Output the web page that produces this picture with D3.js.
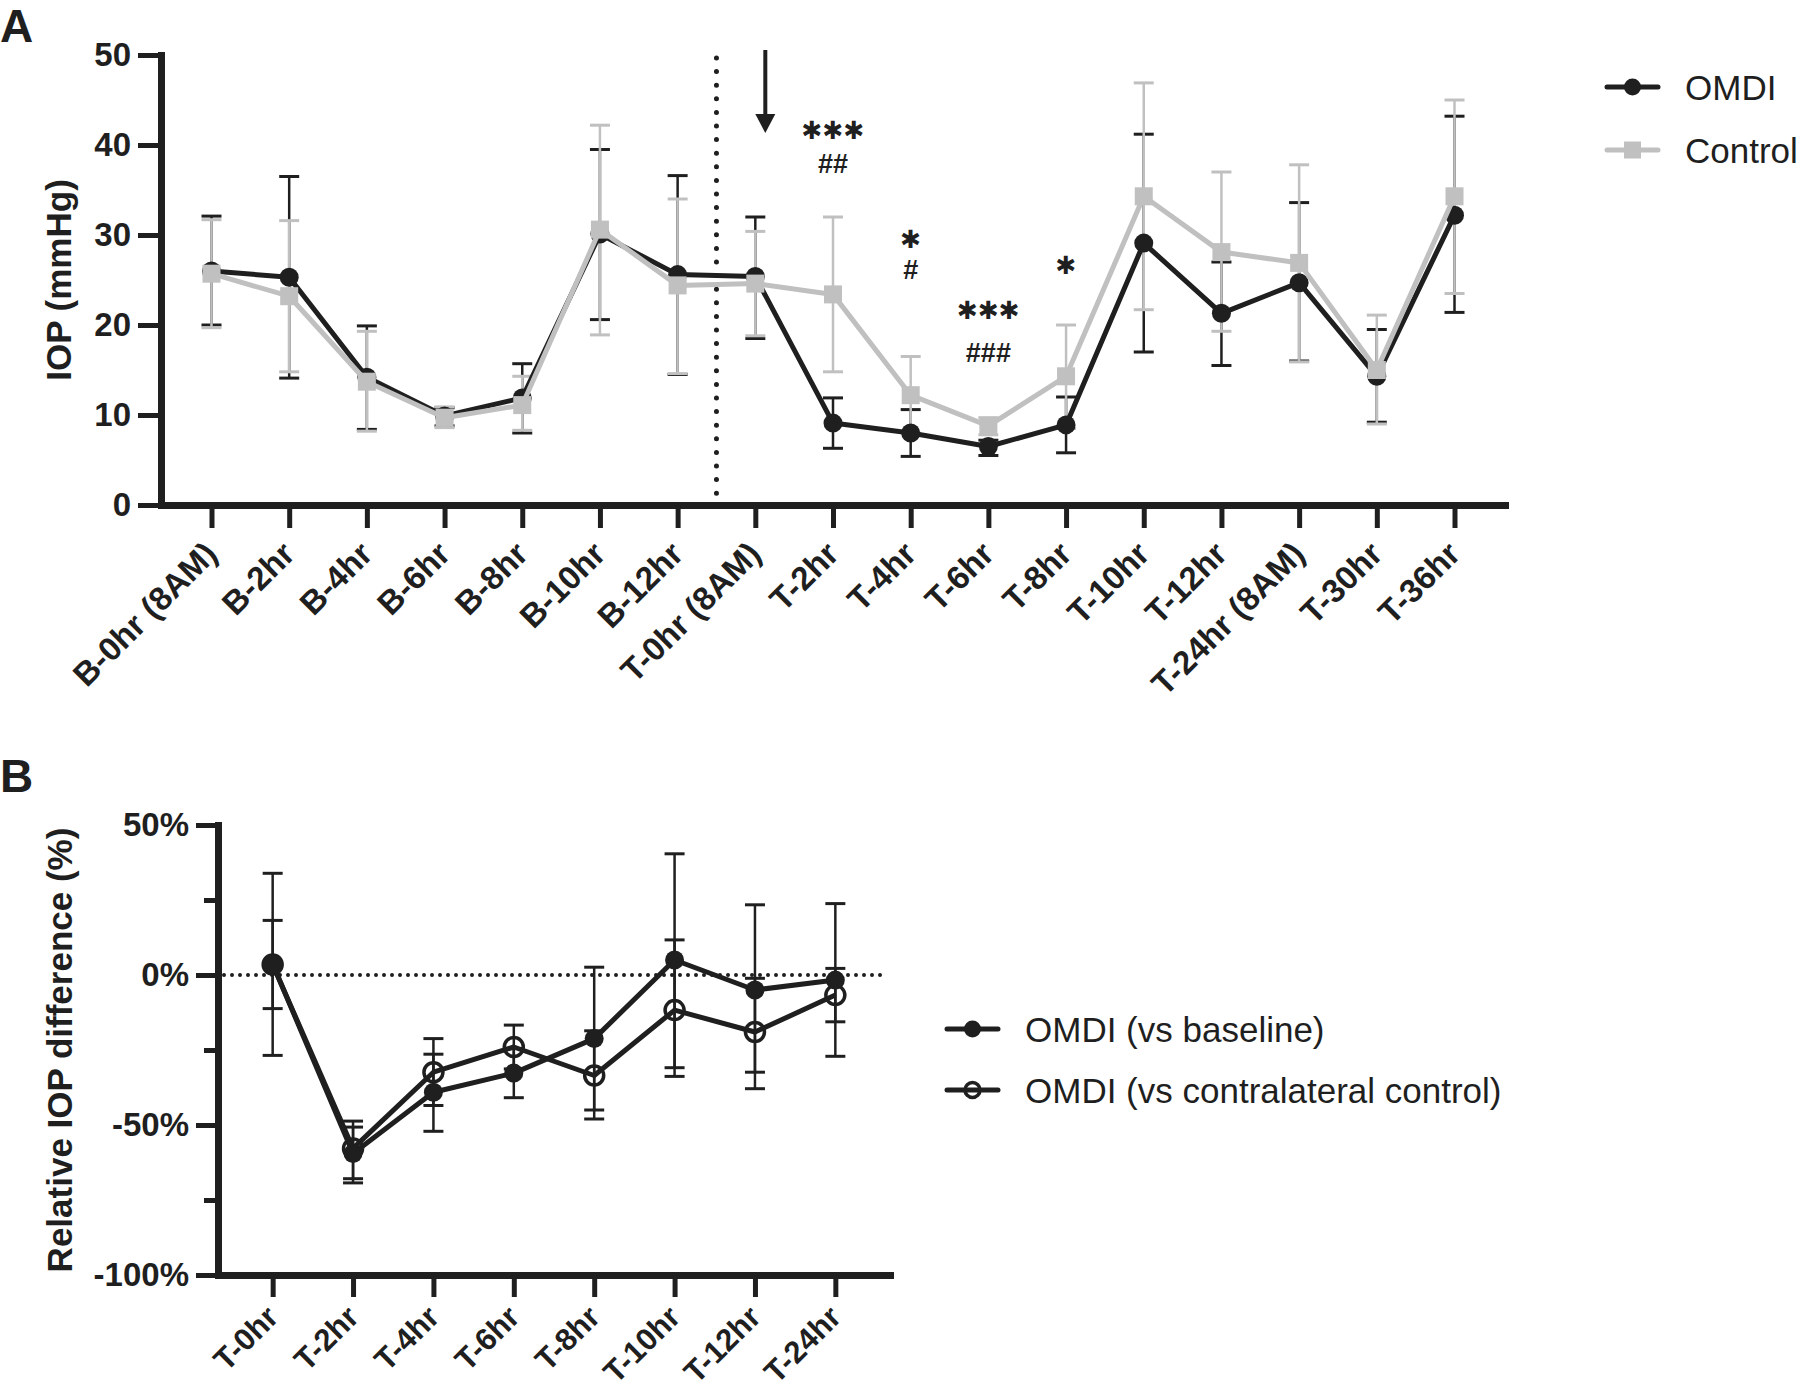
<!DOCTYPE html>
<html>
<head>
<meta charset="utf-8">
<script src="https://cdn.jsdelivr.net/npm/d3@7"></script>
<style>
  body { margin: 0; background: #fff; }
  svg text { font-family: Arial, "Liberation Sans", Helvetica, sans-serif; }
</style>
</head>
<body>
<div id="chart"></div>
<script>
// panel A - IOP over time
const timesA = ["B-0hr (8AM)", "B-2hr", "B-4hr", "B-6hr", "B-8hr", "B-10hr", "B-12hr",
  "T-0hr (8AM)", "T-2hr", "T-4hr", "T-6hr", "T-8hr", "T-10hr", "T-12hr", "T-24hr (8AM)", "T-30hr", "T-36hr"];
const omdiMean = [26.0, 25.3, 14.2, 9.9, 11.9, 30.1, 25.6, 25.4, 9.1, 8.0, 6.5, 8.9, 29.1, 21.3, 24.7, 14.3, 32.2];
const omdiHi   = [32.1, 36.5, 19.9, 10.8, 15.7, 39.5, 36.6, 32.0, 11.9, 10.6, 7.2, 12.0, 41.2, 27.0, 33.6, 19.5, 43.2];
const omdiLo   = [20.0, 14.1, 8.4, 8.8, 8.0, 20.6, 14.5, 18.5, 6.3, 5.4, 5.5, 5.8, 17.0, 15.5, 16.0, 9.2, 21.4];
const ctrlMean = [25.7, 23.2, 13.7, 9.7, 11.1, 30.6, 24.4, 24.6, 23.4, 12.2, 8.8, 14.3, 34.3, 28.1, 26.9, 15.0, 34.3];
const ctrlHi   = [31.7, 31.6, 19.3, 10.9, 14.3, 42.2, 34.0, 30.4, 32.0, 16.5, 9.7, 20.0, 46.9, 37.0, 37.8, 21.1, 45.0];
const ctrlLo   = [19.7, 14.8, 8.2, 8.6, 8.3, 18.9, 14.6, 18.8, 14.8, 8.0, 7.8, 8.5, 21.7, 19.3, 15.9, 9.0, 23.5];
const ticksA = [0, 10, 20, 30, 40, 50];

// significance marks (level in mmHg)
const sigCats  = ["T-2hr", "T-4hr", "T-6hr", "T-8hr"];
const sigStars = ["✱✱✱", "✱", "✱✱✱", "✱"];
const sigStarY = [41.6, 29.4, 21.6, 26.6];
const sigHash  = ["##", "#", "###", ""];
const sigHashY = [37.9, 26.2, 17.0, 0];

// panel B - relative IOP difference
const timesB = ["T-0hr", "T-2hr", "T-4hr", "T-6hr", "T-8hr", "T-10hr", "T-12hr", "T-24hr"];
const vsBaseMean = [3.7, -59.5, -39.1, -32.7, -21.2, 5.0, -5.0, -1.7];
const vsBaseHi   = [33.9, -48.7, -26.4, -24.5, 2.6, 40.4, 23.4, 23.8];
const vsBaseLo   = [-26.8, -69.3, -52.1, -40.9, -45.0, -30.9, -32.4, -27.1];
const vsCtrlMean = [3.5, -57.8, -32.4, -24.0, -33.5, -11.7, -19.0, -6.7];
const vsCtrlHi   = [18.2, -50.7, -21.2, -16.7, -18.6, 11.7, -1.1, 2.2];
const vsCtrlLo   = [-11.2, -67.9, -43.5, -31.3, -48.0, -33.8, -37.9, -15.6];
const ticksB = [-100, -50, 0, 50];
const minorTicksB = [-75, -25, 25];

const black = "#1f1f1f";
const grey = "#c0c0c0";

const svg = d3.select("#chart").append("svg")
  .attr("width", 1800)
  .attr("height", 1391)
  .style("background", "#fff");

// ---------- helpers ----------
function styleAxis(g, size) {
  g.select(".domain").attr("stroke", black).attr("stroke-width", 7).attr("stroke-linecap", "square");
  g.selectAll(".tick line").attr("stroke", black).attr("stroke-width", 5);
  g.selectAll(".tick text")
    .attr("fill", black)
    .style("font-size", size + "px")
    .style("font-weight", "bold");
}

function rotateLabels(g, dy) {
  g.selectAll(".tick text")
    .attr("x", 0).attr("y", 0).attr("dy", 0)
    .attr("text-anchor", "end")
    .attr("transform", `translate(7,${dy}) rotate(-45)`);
}

function drawErrors(g, x, y, cats, hi, lo, color) {
  const eb = g.append("g");
  cats.forEach((c, i) => {
    const cx = x(c);
    eb.append("line")
      .attr("x1", cx).attr("x2", cx)
      .attr("y1", y(hi[i])).attr("y2", y(lo[i]))
      .attr("stroke", color).attr("stroke-width", 2.5);
    [hi[i], lo[i]].forEach(v => {
      eb.append("line")
        .attr("x1", cx - 10).attr("x2", cx + 10)
        .attr("y1", y(v)).attr("y2", y(v))
        .attr("stroke", color).attr("stroke-width", 3);
    });
  });
}

function drawLine(g, x, y, cats, vals, color) {
  const line = d3.line().x((d, i) => x(cats[i])).y(d => y(d));
  g.append("path")
    .datum(vals)
    .attr("d", line)
    .attr("fill", "none")
    .attr("stroke", color)
    .attr("stroke-width", 5)
    .attr("stroke-linejoin", "round");
}

function drawMarkers(g, x, y, cats, vals, color, kind) {
  if (kind === "square") {
    g.selectAll(null).data(vals).enter().append("rect")
      .attr("x", (d, i) => x(cats[i]) - 9)
      .attr("y", d => y(d) - 9)
      .attr("width", 18).attr("height", 18)
      .attr("fill", color);
  } else if (kind === "open") {
    g.selectAll(null).data(vals).enter().append("circle")
      .attr("cx", (d, i) => x(cats[i]))
      .attr("cy", d => y(d))
      .attr("r", 9.5)
      .attr("fill", "none")
      .attr("stroke", color).attr("stroke-width", 3.5);
  } else {
    g.selectAll(null).data(vals).enter().append("circle")
      .attr("cx", (d, i) => x(cats[i]))
      .attr("cy", d => y(d))
      .attr("r", 9.5)
      .attr("fill", color);
  }
}

function legendItem(g, x0, y0, label, color, kind) {
  g.append("line")
    .attr("x1", x0).attr("x2", x0 + 51)
    .attr("y1", y0).attr("y2", y0)
    .attr("stroke", color).attr("stroke-width", 5).attr("stroke-linecap", "round");
  const mx = x0 + 25.5;
  if (kind === "square") {
    g.append("rect").attr("x", mx - 8.5).attr("y", y0 - 8.5).attr("width", 17).attr("height", 17).attr("fill", color);
  } else if (kind === "open") {
    g.append("circle").attr("cx", mx).attr("cy", y0).attr("r", 7.5).attr("fill", "none")
      .attr("stroke", color).attr("stroke-width", 3.5);
  } else {
    g.append("circle").attr("cx", mx).attr("cy", y0).attr("r", 8.5).attr("fill", color);
  }
  g.append("text")
    .attr("x", x0 + 78).attr("y", y0 + 12.5)
    .attr("fill", black)
    .style("font-size", "35px")
    .text(label);
}

// ---------- panel A ----------
const gA = svg.append("g");
const yA = d3.scaleLinear().domain([0, 50]).range([505, 55]);
const xA = d3.scalePoint().domain(timesA).range([161, 1505]).padding(0.65);

gA.append("text").attr("x", 0).attr("y", 42)
  .style("font-size", "46px").style("font-weight", "bold").attr("fill", black).text("A");

const yAxisA = gA.append("g").attr("transform", "translate(161,0)")
  .call(d3.axisLeft(yA).tickValues(ticksA).tickSize(23).tickPadding(7).tickSizeOuter(0));
styleAxis(yAxisA, 33);

const xAxisA = gA.append("g").attr("transform", "translate(0,505)")
  .call(d3.axisBottom(xA).tickSize(23).tickSizeOuter(0));
styleAxis(xAxisA, 33);
rotateLabels(xAxisA, 51);

gA.append("text")
  .attr("transform", "translate(71," + yA(25) + ") rotate(-90)")
  .attr("text-anchor", "middle")
  .attr("fill", black)
  .style("font-size", "35px").style("font-weight", "bold")
  .text("IOP (mmHg)");

// dotted separator between baseline and treatment
const sepX = (xA("B-12hr") + xA("T-0hr (8AM)")) / 2;
gA.append("line")
  .attr("x1", sepX).attr("x2", sepX)
  .attr("y1", yA(50) + 3).attr("y2", yA(0) - 11)
  .attr("stroke", black).attr("stroke-width", 5)
  .attr("stroke-linecap", "round")
  .attr("stroke-dasharray", "0 13.6");

// arrow at treatment
const arX = xA("T-0hr (8AM)") + 10;
gA.append("line").attr("x1", arX).attr("x2", arX).attr("y1", 50).attr("y2", 118)
  .attr("stroke", black).attr("stroke-width", 4);
gA.append("path")
  .attr("d", `M${arX - 10},114 L${arX + 10},114 L${arX},133 Z`)
  .attr("fill", black);

drawErrors(gA, xA, yA, timesA, omdiHi, omdiLo, black);
drawErrors(gA, xA, yA, timesA, ctrlHi, ctrlLo, grey);
drawLine(gA, xA, yA, timesA, omdiMean, black);
drawMarkers(gA, xA, yA, timesA, omdiMean, black, "circle");
drawLine(gA, xA, yA, timesA, ctrlMean, grey);
drawMarkers(gA, xA, yA, timesA, ctrlMean, grey, "square");

// stars (heavy asterisk keeps the text box small) and hashes
sigCats.forEach((c, i) => {
  gA.append("text")
    .attr("x", xA(c)).attr("y", yA(sigStarY[i]) + 8)
    .attr("text-anchor", "middle")
    .attr("fill", black)
    .style("font-family", "'DejaVu Sans', sans-serif")
    .style("font-size", "25px")
    .text(sigStars[i]);
  if (sigHash[i]) {
    gA.append("text")
      .attr("x", xA(c)).attr("y", yA(sigHashY[i]) + 9.5)
      .attr("text-anchor", "middle")
      .attr("fill", black)
      .style("font-size", "27px").style("font-weight", "bold")
      .text(sigHash[i]);
  }
});

const legA = gA.append("g");
legendItem(legA, 1607, 87, "OMDI", black, "circle");
legendItem(legA, 1607, 150, "Control", grey, "square");

// ---------- panel B ----------
const gB = svg.append("g");
const yB = d3.scaleLinear().domain([-100, 50]).range([1275, 825]);
const xB = d3.scalePoint().domain(timesB).range([218, 890]).padding(0.68);

gB.append("text").attr("x", 0).attr("y", 792)
  .style("font-size", "46px").style("font-weight", "bold").attr("fill", black).text("B");

const yAxisB = gB.append("g").attr("transform", "translate(218,0)")
  .call(d3.axisLeft(yB).tickValues(ticksB).tickSize(22).tickPadding(7).tickSizeOuter(0)
    .tickFormat(d => d + "%"));
styleAxis(yAxisB, 33);
const yMinorB = gB.append("g").attr("transform", "translate(218,0)")
  .call(d3.axisLeft(yB).tickValues(minorTicksB).tickSize(14).tickFormat(""));
yMinorB.select(".domain").remove();
yMinorB.selectAll(".tick line").attr("stroke", black).attr("stroke-width", 5);
yMinorB.selectAll(".tick text").remove();

const xAxisB = gB.append("g").attr("transform", "translate(0,1275)")
  .call(d3.axisBottom(xB).tickSize(22).tickSizeOuter(0));
styleAxis(xAxisB, 31);
rotateLabels(xAxisB, 44);

gB.append("text")
  .attr("transform", "translate(72," + yB(-25) + ") rotate(-90)")
  .attr("text-anchor", "middle")
  .attr("fill", black)
  .style("font-size", "35px").style("font-weight", "bold")
  .text("Relative IOP difference (%)");

// zero reference line
gB.append("line")
  .attr("x1", 224).attr("x2", 884)
  .attr("y1", yB(0)).attr("y2", yB(0))
  .attr("stroke", black).attr("stroke-width", 4)
  .attr("stroke-linecap", "round")
  .attr("stroke-dasharray", "0 8");

drawErrors(gB, xB, yB, timesB, vsBaseHi, vsBaseLo, black);
drawErrors(gB, xB, yB, timesB, vsCtrlHi, vsCtrlLo, black);
drawLine(gB, xB, yB, timesB, vsBaseMean, black);
drawLine(gB, xB, yB, timesB, vsCtrlMean, black);
drawMarkers(gB, xB, yB, timesB, vsCtrlMean, black, "open");
drawMarkers(gB, xB, yB, timesB, vsBaseMean, black, "circle");

const legB = gB.append("g");
legendItem(legB, 947, 1029, "OMDI (vs baseline)", black, "circle");
legendItem(legB, 947, 1090, "OMDI (vs contralateral control)", black, "open");
</script>
</body>
</html>
